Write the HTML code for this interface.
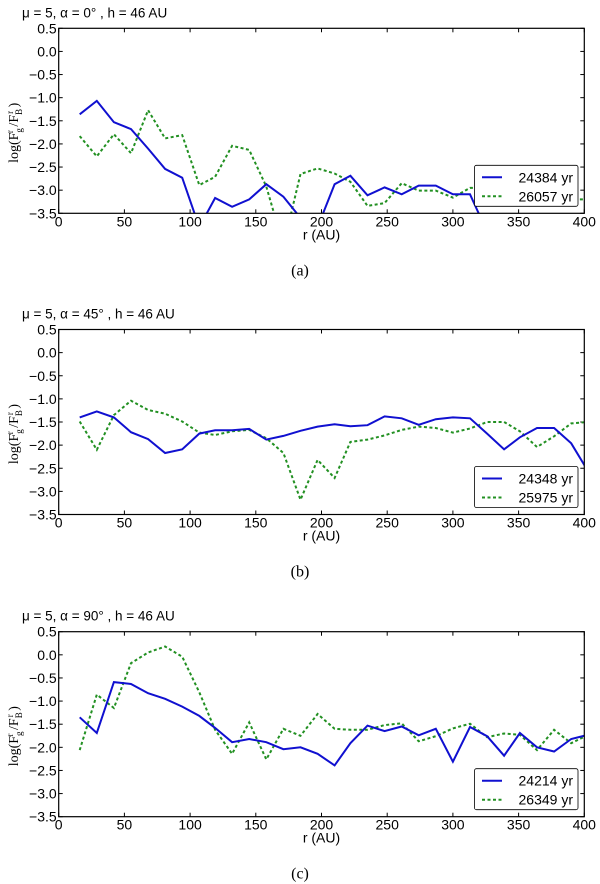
<!DOCTYPE html>
<html><head><meta charset="utf-8"><style>
html,body{margin:0;padding:0;background:#fff;}
svg{display:block;font-family:"Liberation Sans",sans-serif;}
</style></head><body>
<svg id="fig" width="600" height="884" viewBox="0 0 600 884"></svg>
<script>
const radii = [16,29,42,55,68,81,94,107,119,132,145,158,171,184,197,210,222,235,248,261,274,287,300,313,326,339,351,364,377,390,403];
const xTicks = [0,50,100,150,200,250,300,350,400];
const yTicks = [0.5,0.0,-0.5,-1.0,-1.5,-2.0,-2.5,-3.0,-3.5];
const titles = ["\u03bc = 5, \u03b1 = 0\u00b0 , h = 46 AU","\u03bc = 5, \u03b1 = 45\u00b0 , h = 46 AU","\u03bc = 5, \u03b1 = 90\u00b0 , h = 46 AU"];
const captions = ["(a)","(b)","(c)"];
const labelsSolid = ["24384 yr","24348 yr","24214 yr"];
const labelsDotted = ["26057 yr","25975 yr","26349 yr"];
const solidA = [-1.36,-1.07,-1.53,-1.68,-2.1,-2.54,-2.73,-3.8,-3.17,-3.36,-3.2,-2.87,-3.14,-3.6,-3.8,-2.87,-2.69,-3.11,-2.94,-3.09,-2.9,-2.9,-3.09,-3.09,-3.9,-4,-4,-4,-4,-4,-4];
const dottedA = [-1.83,-2.27,-1.79,-2.2,-1.27,-1.88,-1.81,-2.89,-2.71,-2.04,-2.13,-2.92,-4.2,-2.65,-2.53,-2.64,-2.82,-3.34,-3.28,-2.85,-3.01,-3.01,-3.16,-2.95,-2.95,-3.1,-3.2,-3.0,-3.1,-3.2,-3.2];
const solidB = [-1.4,-1.27,-1.4,-1.72,-1.87,-2.17,-2.09,-1.75,-1.68,-1.68,-1.65,-1.88,-1.8,-1.69,-1.6,-1.55,-1.59,-1.57,-1.38,-1.42,-1.56,-1.44,-1.4,-1.42,-1.75,-2.09,-1.83,-1.63,-1.63,-1.96,-2.57];
const dottedB = [-1.49,-2.1,-1.35,-1.04,-1.24,-1.32,-1.49,-1.73,-1.78,-1.7,-1.67,-1.85,-2.17,-3.18,-2.32,-2.71,-1.93,-1.88,-1.79,-1.67,-1.6,-1.63,-1.73,-1.64,-1.5,-1.5,-1.7,-2.04,-1.81,-1.53,-1.5];
const solidC = [-1.35,-1.69,-0.59,-0.63,-0.83,-0.95,-1.12,-1.32,-1.58,-1.89,-1.82,-1.89,-2.04,-2.0,-2.14,-2.39,-1.91,-1.53,-1.65,-1.55,-1.74,-1.6,-2.31,-1.56,-1.76,-2.18,-1.69,-2.0,-2.09,-1.82,-1.73];
const dottedC = [-2.06,-0.86,-1.15,-0.18,0.05,0.18,-0.04,-0.81,-1.62,-2.14,-1.46,-2.26,-1.6,-1.75,-1.28,-1.6,-1.62,-1.62,-1.52,-1.48,-1.87,-1.76,-1.59,-1.49,-1.78,-1.7,-1.73,-2.06,-1.62,-1.91,-1.73];

const solids=[solidA,solidB,solidC], dotteds=[dottedA,dottedB,dottedC];
const tops=[28.3,329.5,631.7];
const NS="http://www.w3.org/2000/svg";
const svg=document.getElementById('fig');
function mk(tag,attrs,parent,text){const e=document.createElementNS(NS,tag);for(const k in attrs)e.setAttribute(k,attrs[k]);if(text!==undefined)e.textContent=text;(parent||svg).appendChild(e);return e;}
const X0=58.7,X1=584.3,H=185;
const defs=mk('defs',{});
for(let p=0;p<3;p++){
  const top=tops[p], bot=top+H;
  const xs=v=>X0+(v/400)*(X1-X0);
  const ys=v=>top+(0.5-v)/4*H;
  const g=mk('g',{});
  
  
  const t=mk('text',{x:22,y:top-11,'font-size':13.5},g,titles[p]);
  
  
  const cp=mk('clipPath',{id:'cp'+p},defs);
  mk('rect',{x:X0,y:top,width:X1-X0,height:H},cp);
  xTicks.forEach(v=>{
    const x=xs(v);
    mk('line',{x1:x,x2:x,y1:bot,y2:bot-4,stroke:'#000','stroke-width':1},g);
    mk('line',{x1:x,x2:x,y1:top,y2:top+4,stroke:'#000','stroke-width':1},g);
    const l=mk('text',{x:x,y:bot+13,'font-size':14,'text-anchor':'middle'},g,String(v));
    
    
  });
  yTicks.forEach(v=>{
    const y=ys(v);
    mk('line',{x1:X0,x2:X0+4,y1:y,y2:y,stroke:'#000','stroke-width':1},g);
    mk('line',{x1:X1,x2:X1-4,y1:y,y2:y,stroke:'#000','stroke-width':1},g);
    const l=mk('text',{x:X0-2,y:y+5,'font-size':14,'text-anchor':'end'},g,(v<0?'\u2212':'')+Math.abs(v).toFixed(1));
    
    
  });
  const xl=mk('text',{x:(X0+X1)/2,y:bot+26,'font-size':14,'text-anchor':'middle'},g,'r (AU)');
  
  
  const yl=mk('text',{transform:`translate(18,${top+H/2+12}) rotate(-90)`,'font-size':14,'text-anchor':'middle','font-family':'Liberation Serif,serif'},g);
  
  
  yl.innerHTML='log(F<tspan dy="4" font-size="9">g</tspan><tspan dy="-9" font-size="9" dx="-5">r</tspan><tspan dy="5"> /F</tspan><tspan dy="4" font-size="9">B</tspan><tspan dy="-9" font-size="9" dx="-5">r</tspan><tspan dy="5"> )</tspan>';
  const dSolid=solids[p].map((v,i)=>(i?'L':'M')+xs(radii[i]).toFixed(1)+','+ys(v).toFixed(1)).join('');
  const dDot=dotteds[p].map((v,i)=>(i?'L':'M')+xs(radii[i]).toFixed(1)+','+ys(v).toFixed(1)).join('');
  const gd=mk('path',{d:dDot,fill:'none',stroke:'#229022','stroke-width':2,'stroke-dasharray':'3,2.5','clip-path':`url(#cp${p})`},g);
  
  
  const bs=mk('path',{d:dSolid,fill:'none',stroke:'#1010d0','stroke-width':2,'clip-path':`url(#cp${p})`},g);
  
  
  mk('rect',{x:X0,y:top,width:X1-X0,height:H,fill:'none',stroke:'#000','stroke-width':1.2},g);
  const lg=mk('g',{},g);
  
  
  const ly=bot-48;
  mk('rect',{x:474.5,y:ly,width:103.5,height:41,fill:'#fff',stroke:'#000','stroke-width':0.8,rx:2},lg);
  mk('line',{x1:482,x2:502,y1:ly+12,y2:ly+12,stroke:'#1010d0','stroke-width':2},lg);
  mk('line',{x1:482,x2:502,y1:ly+31,y2:ly+31,stroke:'#229022','stroke-width':2,'stroke-dasharray':'3,2.5'},lg);
  mk('text',{x:573,y:ly+17,'font-size':14,'text-anchor':'end'},lg,labelsSolid[p]);
  mk('text',{x:573,y:ly+36,'font-size':14,'text-anchor':'end'},lg,labelsDotted[p]);
  const c=mk('text',{x:300,y:bot+62,'font-size':16,'text-anchor':'middle','font-family':'Liberation Serif,serif'},g,captions[p]);
  
  
}
</script>
</body></html>
